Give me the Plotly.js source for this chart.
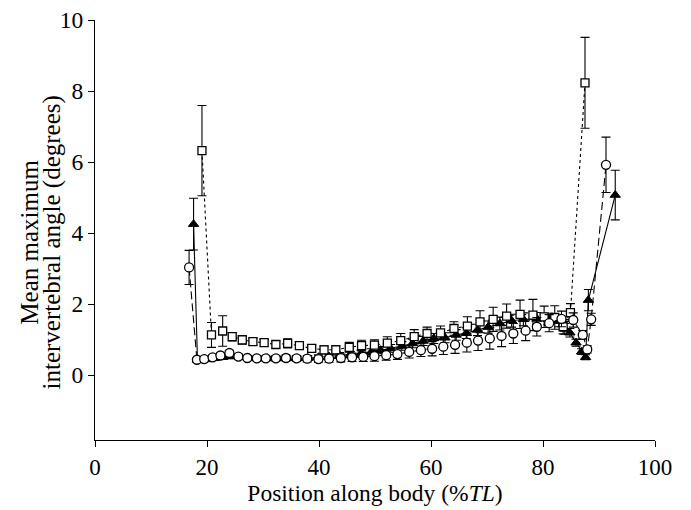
<!DOCTYPE html>
<html>
<head>
<meta charset="utf-8">
<script src="https://cdn.plot.ly/plotly-3.0.1.min.js"></script>
<style>html,body{margin:0;padding:0;background:#fff;}#chart{width:691px;height:510px;}</style>
</head>
<body>
<div id="chart"></div>
<script>
// Open circles (dashed line)
var circleX = [16.8, 18.2, 19.5, 21.0, 22.4, 24.0, 25.6, 27.2, 28.9, 30.5, 32.3, 34.1, 36.0, 37.9, 39.9, 41.8, 43.9, 45.9, 47.9, 49.9, 52.0, 54.0, 56.1, 58.2, 60.2, 62.2, 64.3, 66.4, 68.4, 70.5, 72.6, 74.7, 76.9, 78.9, 81.1, 83.3, 85.4, 87.1, 87.9, 88.6, 91.25];
var circleY = [3.03, 0.43, 0.45, 0.50, 0.55, 0.62, 0.52, 0.48, 0.47, 0.47, 0.47, 0.48, 0.47, 0.46, 0.45, 0.46, 0.48, 0.50, 0.51, 0.53, 0.56, 0.59, 0.65, 0.70, 0.74, 0.80, 0.85, 0.91, 0.97, 1.03, 1.10, 1.17, 1.25, 1.36, 1.46, 1.58, 1.55, 1.13, 0.72, 1.57, 5.92];
var circleErr = [0.48, 0.05, 0.05, 0.06, 0.07, 0.08, 0.07, 0.07, 0.07, 0.07, 0.08, 0.08, 0.08, 0.09, 0.09, 0.1, 0.11, 0.12, 0.13, 0.14, 0.14, 0.15, 0.17, 0.18, 0.2, 0.22, 0.24, 0.26, 0.28, 0.3, 0.3, 0.28, 0.28, 0.26, 0.24, 0.22, 0.2, 0.12, 0.1, 0.17, 0.78];

// Open squares (dotted line)
var squareX = [19.1, 20.8, 22.8, 24.5, 26.3, 28.2, 30.2, 32.3, 34.4, 36.5, 38.7, 40.9, 43.0, 45.4, 47.6, 49.9, 52.2, 54.6, 57.0, 59.3, 61.7, 64.1, 66.5, 68.75, 71.1, 73.5, 75.9, 78.2, 80.2, 82.1, 83.6, 84.9, 87.5];
var squareY = [6.32, 1.13, 1.24, 1.08, 0.99, 0.94, 0.91, 0.86, 0.89, 0.83, 0.75, 0.71, 0.71, 0.78, 0.83, 0.84, 0.90, 0.97, 1.08, 1.17, 1.19, 1.31, 1.38, 1.50, 1.57, 1.66, 1.71, 1.69, 1.64, 1.62, 1.36, 1.76, 8.23];
var squareErr = [1.27, 0.35, 0.43, 0.12, 0.12, 0.1, 0.1, 0.1, 0.13, 0.11, 0.1, 0.11, 0.12, 0.14, 0.15, 0.15, 0.18, 0.2, 0.2, 0.18, 0.19, 0.19, 0.26, 0.31, 0.34, 0.34, 0.40, 0.44, 0.30, 0.33, 0.2, 0.25, 1.28];

// Filled triangles (solid line)
var triX = [17.6, 18.3, 19.8, 21.3, 22.8, 24.3, 25.9, 27.5, 29.1, 30.8, 32.5, 34.3, 36.1, 38.0, 39.9, 41.8, 43.7, 45.6, 47.5, 49.3, 51.0, 52.8, 54.8, 56.7, 58.6, 60.5, 62.5, 64.5, 66.3, 68.3, 70.2, 72.3, 74.4, 76.5, 78.9, 81.0, 82.8, 83.9, 84.8, 85.9, 86.9, 87.6, 88.1, 92.9];
var triY = [4.25, 0.42, 0.44, 0.47, 0.50, 0.52, 0.50, 0.48, 0.47, 0.47, 0.47, 0.47, 0.47, 0.48, 0.50, 0.52, 0.55, 0.58, 0.61, 0.64, 0.70, 0.75, 0.82, 0.89, 0.96, 1.03, 1.05, 1.13, 1.18, 1.27, 1.35, 1.45, 1.53, 1.57, 1.58, 1.57, 1.52, 1.30, 1.19, 0.91, 0.66, 0.50, 2.11, 5.07];
var triErr = [0.73, 0.04, 0.04, 0.05, 0.05, 0.05, 0.05, 0.05, 0.05, 0.05, 0.05, 0.06, 0.06, 0.06, 0.07, 0.07, 0.08, 0.08, 0.09, 0.1, 0.1, 0.11, 0.12, 0.12, 0.13, 0.14, 0.14, 0.15, 0.15, 0.16, 0.17, 0.18, 0.18, 0.18, 0.18, 0.17, 0.16, 0.15, 0.12, 0.1, 0.08, 0.07, 0.3, 0.7];

var xTicks = [0, 20, 40, 60, 80, 100];
var yTicks = [0, 2, 4, 6, 8, 10];
var yTitleLines = ['Mean maximum', 'intervertebral angle (degrees)'];
var xTitle = 'Position along body (%<i>TL</i>)';

var FONT = '"Liberation Serif", "DejaVu Serif", serif';

function errBars(arr) {
  return {type: 'data', array: arr, visible: true, color: '#000', thickness: 1.1, width: 4.5};
}

var traces = [
  {
    x: triX, y: triY, type: 'scatter', mode: 'lines+markers',
    line: {color: '#000', width: 1.1},
    marker: {symbol: 'triangle-up', size: 9, color: '#000', line: {color: '#000', width: 1}},
    error_y: errBars(triErr), hoverinfo: 'skip'
  },
  {
    x: squareX, y: squareY, type: 'scatter', mode: 'lines+markers',
    line: {color: '#000', width: 1.1, dash: 'dot'},
    marker: {symbol: 'square', size: 8, color: '#fff', line: {color: '#000', width: 1.3}},
    error_y: errBars(squareErr), hoverinfo: 'skip'
  },
  {
    x: circleX, y: circleY, type: 'scatter', mode: 'lines+markers',
    line: {color: '#000', width: 1.1, dash: '8px,4px'},
    marker: {symbol: 'circle', size: 9, color: '#fff', line: {color: '#000', width: 1.3}},
    error_y: errBars(circleErr), hoverinfo: 'skip'
  }
];

var layout = {
  width: 691, height: 510,
  margin: {l: 95, r: 36, t: 20, b: 70},
  paper_bgcolor: '#fff', plot_bgcolor: '#fff',
  showlegend: false,
  font: {family: FONT, size: 22, color: '#000'},
  xaxis: {
    range: [0, 100], tickvals: xTicks, ticktext: xTicks.map(String),
    showline: true, linecolor: '#000', linewidth: 1,
    ticks: 'outside', ticklen: 6, tickcolor: '#000', tickwidth: 1,
    showgrid: false, zeroline: false, automargin: false,
    tickfont: {size: 23},
    title: {text: xTitle, font: {size: 23.5}, standoff: 3}
  },
  yaxis: {
    range: [-1.83, 10], tickvals: yTicks, ticktext: yTicks.map(String),
    showline: true, linecolor: '#000', linewidth: 1,
    ticks: 'outside', ticklen: 6, tickcolor: '#000', tickwidth: 1,
    showgrid: false, zeroline: false, automargin: false,
    tickfont: {size: 23.5}
  },
  annotations: [
    {text: yTitleLines[0], xref: 'paper', yref: 'paper', x: -0.116, y: 0.47,
     xanchor: 'center', yanchor: 'middle', textangle: -90, showarrow: false,
     font: {family: FONT, size: 25, color: '#000'}},
    {text: yTitleLines[1], xref: 'paper', yref: 'paper', x: -0.077, y: 0.47,
     xanchor: 'center', yanchor: 'middle', textangle: -90, showarrow: false,
     font: {family: FONT, size: 25, color: '#000'}}
  ]
};

Plotly.newPlot('chart', traces, layout, {displayModeBar: false, staticPlot: true});
</script>
</body>
</html>
